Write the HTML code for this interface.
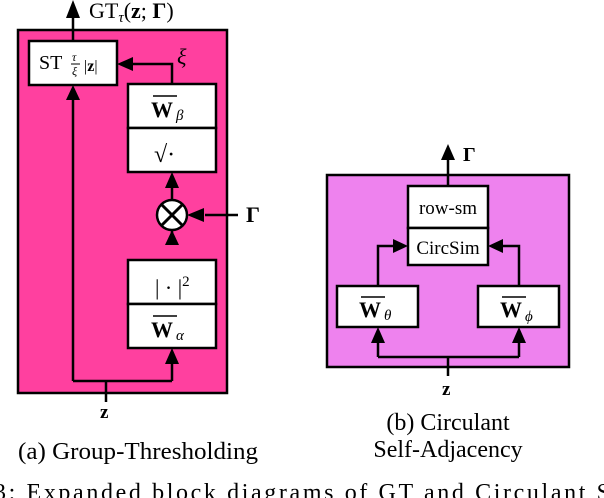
<!DOCTYPE html>
<html><head><style>
body{margin:0;background:#fff;width:604px;height:498px;overflow:hidden;position:relative}
svg{position:absolute;left:0;top:0}
text{font-family:"Liberation Serif",serif;fill:#000}
</style></head><body>
<svg width="604" height="498" viewBox="0 0 604 498">
<g stroke="#000" stroke-width="2.5" fill="none">
<rect x="18" y="30" width="209" height="363" fill="#FF409F"/>
<rect x="29" y="41" width="88" height="44" fill="#fff"/>
<rect x="128" y="84" width="88" height="44" fill="#fff"/>
<rect x="128" y="128" width="88" height="44" fill="#fff"/>
<rect x="128" y="260" width="88" height="44" fill="#fff"/>
<rect x="128" y="304" width="88" height="44" fill="#fff"/>
<circle cx="172" cy="215" r="15" fill="#fff"/>
<path d="M162,205 L182,225 M182,205 L162,225" stroke-width="3"/>
<path d="M73,41 V12"/>
<path d="M106,402 V381 M73,381 H172 M73,381 V100 M172,381 V364"/>
<path d="M172,84 V64 H132"/>
<path d="M172,200 V188 M172,245 V230"/>
<path d="M238,215 H205"/>
<rect x="327" y="175" width="242" height="192" fill="#EE82EE"/>
<rect x="408" y="186" width="80" height="42" fill="#fff"/>
<rect x="408" y="228" width="80" height="37" fill="#fff"/>
<rect x="337" y="286" width="81" height="41" fill="#fff"/>
<rect x="478" y="286" width="81" height="41" fill="#fff"/>
<path d="M448,186 V160"/>
<path d="M378,286 V246 H395 M519,286 V246 H502"/>
<path d="M448,376 V357 M378,357 H519 M378,357 V342 M519,357 V342"/>
</g>
<g fill="#000">
<path d="M66,18 L73,0 L80,18 Z"/>
<path d="M66,100 L73,85 L80,100 Z"/>
<path d="M165,364 L172,348 L179,364 Z"/>
<path d="M165,188 L172,172 L179,188 Z"/>
<path d="M165,245 L172,230 L179,245 Z"/>
<path d="M117,64 L133,57 L133,71 Z"/>
<path d="M187,215 L204,208 L204,222 Z"/>
<path d="M441,160 L448,144 L455,160 Z"/>
<path d="M408,246 L393,239 L393,253 Z"/>
<path d="M488,246 L503,239 L503,253 Z"/>
<path d="M371,343 L378,327 L385,343 Z"/>
<path d="M512,343 L519,327 L526,343 Z"/>
</g>
<text x="89" y="18" font-size="22">GT<tspan font-style="italic" font-size="15" dy="4">τ</tspan><tspan dy="-4">(</tspan><tspan font-weight="bold">z</tspan>; <tspan font-weight="bold">Γ</tspan>)</text>
<text x="39" y="69" font-size="20">ST</text>
<text x="72" y="61" font-size="12" font-style="italic">τ</text>
<line x1="71" y1="64" x2="80" y2="64" stroke="#000" stroke-width="1"/>
<text x="72" y="75" font-size="12" font-style="italic">ξ</text>
<text x="84" y="71" font-size="16">|<tspan font-weight="bold">z</tspan>|</text>
<text x="177" y="64" font-size="22" font-style="italic">ξ</text>
<line x1="153" y1="96" x2="177" y2="96" stroke="#000" stroke-width="1.5"/>
<text x="151" y="117" font-size="22" font-weight="bold">W</text><text x="176" y="120" font-size="15" font-style="italic">β</text>
<text x="154" y="162" font-size="24">√·</text>
<text x="246" y="222" font-size="22" font-weight="bold">Γ</text>
<text x="155" y="295" font-size="22">| · |<tspan font-size="15" dy="-9">2</tspan></text>
<line x1="153" y1="316" x2="177" y2="316" stroke="#000" stroke-width="1.5"/>
<text x="151" y="337" font-size="22" font-weight="bold">W</text><text x="176" y="340" font-size="15" font-style="italic">α</text>
<text x="100" y="418" font-size="19" font-weight="bold">z</text>
<text x="18" y="459" font-size="24" textLength="240" lengthAdjust="spacingAndGlyphs">(a) Group-Thresholding</text>
<text x="463" y="161" font-size="20" font-weight="bold">Γ</text>
<text x="448" y="214" font-size="19" text-anchor="middle">row-sm</text>
<text x="448" y="254" font-size="19" text-anchor="middle">CircSim</text>
<line x1="361" y1="297" x2="385" y2="297" stroke="#000" stroke-width="1.5"/>
<text x="359" y="317" font-size="22" font-weight="bold">W</text><text x="384" y="320" font-size="15" font-style="italic">θ</text>
<line x1="502" y1="297" x2="526" y2="297" stroke="#000" stroke-width="1.5"/>
<text x="500" y="317" font-size="22" font-weight="bold">W</text><text x="525" y="321" font-size="15" font-style="italic">ϕ</text>
<text x="442" y="395" font-size="19" font-weight="bold">z</text>
<text x="448" y="430" font-size="24" text-anchor="middle">(b) Circulant</text>
<text x="448" y="457" font-size="24" text-anchor="middle">Self-Adjacency</text>
<text x="-6" y="500" font-size="24" textLength="616" lengthAdjust="spacing">3: Expanded block diagrams of GT and Circulant S</text>
</svg>
</body></html>
